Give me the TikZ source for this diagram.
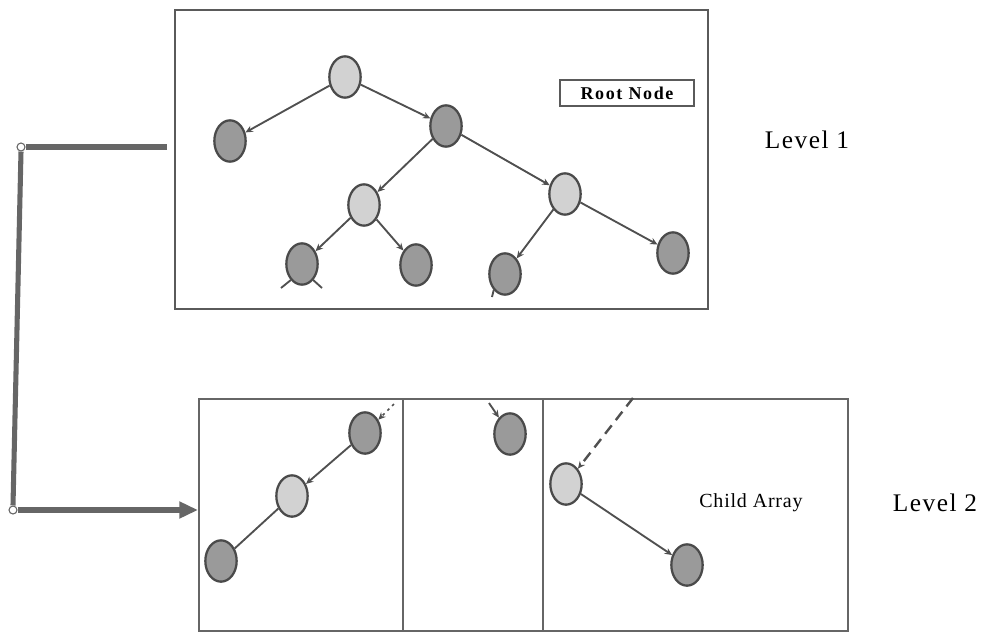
\documentclass[tikz,border=0pt]{standalone}
\usepackage{fontspec}
\setmainfont{Liberation Serif}
\usetikzlibrary{shapes.geometric,arrows.meta}
\definecolor{edgegray}{HTML}{505050}
\definecolor{lightfill}{HTML}{D2D2D2}
\definecolor{darkfill}{HTML}{9A9A9A}
\definecolor{rimgray}{HTML}{4A4A4A}
\definecolor{boxgray}{HTML}{5A5A5A}
\definecolor{linkgray}{HTML}{666666}
\begin{document}
\begin{tikzpicture}[x=0.75pt,y=-0.75pt,
  treenode/.style={ellipse,draw=rimgray,line width=1.7pt,inner sep=0pt,
    minimum width=23.5pt,minimum height=31pt},
  lightnode/.style={treenode,fill=lightfill},
  darknode/.style={treenode,fill=darkfill},
  edge/.style={draw=edgegray,line width=1.4pt,-{Stealth[length=5.5pt,width=5pt]}},
  stub/.style={draw=edgegray,line width=1.4pt},
  dashedge/.style={draw=edgegray,line width=1.8pt,dashed,dash pattern=on 8pt off 5pt,
    -{Stealth[length=5.5pt,width=5pt]}},
  frame/.style={draw=boxgray,line width=1.6pt},
  panel/.style={draw=linkgray,line width=0.9pt},
  link/.style={draw=linkgray,line width=3.8pt},
  joint/.style={circle,draw=linkgray,fill=white,line width=0.8pt,inner sep=0pt,minimum size=6pt},
  leveltext/.style={font=\fontsize{19}{22}\selectfont\addfontfeature{LetterSpace=6}},
]
\useasboundingbox (0,0) rectangle (986,636);

% ---- level 1: the tree ----
\draw[frame] (175,10) rectangle (708,309);
\node[draw=boxgray,line width=1.3pt,minimum width=100pt,minimum height=20pt,inner sep=2pt,
  font=\fontsize{13.5}{15}\selectfont\bfseries\addfontfeature{LetterSpace=9}] (rootlabel) at (627,93) {Root Node};

\node[lightnode] (r) at (345,77) {};
\node[darknode]  (a) at (230,141) {};
\node[darknode]  (b) at (446,126) {};
\node[lightnode] (c) at (364,205) {};
\node[lightnode] (d) at (565,194) {};
\node[darknode]  (e) at (302,264) {};
\node[darknode]  (f) at (416,265) {};
\node[darknode]  (g) at (505,274) {};
\node[darknode]  (h) at (673,253) {};

\draw[edge] (r) -- (a);
\draw[edge] (r) -- (b);
\draw[edge] (b) -- (c);
\draw[edge] (b) -- (d);
\draw[edge] (c) -- (e);
\draw[edge] (c) -- (f);
\draw[edge] (d) -- (g);
\draw[edge] (d) -- (h);

\coordinate (e1) at (281,288);
\coordinate (e2) at (322,288);
\coordinate (g1) at (492,297);
\draw[stub] (e.235) -- (e1);
\draw[stub] (e.305) -- (e2);
\draw[stub] (g.235) -- (g1);

\node[leveltext] (lvl1) at (807,140) {Level 1};

% ---- level 2: the child array ----
\draw[panel] (199,399) rectangle (848,631);
\draw[panel] (403,399) -- (403,631);
\draw[panel] (543,399) -- (543,631);

\node[darknode]  (p1) at (365,433) {};
\node[lightnode] (p2) at (292,496) {};
\node[darknode]  (p3) at (221,561) {};
\node[darknode]  (q1) at (510,434) {};
\node[lightnode] (s1) at (566,484) {};
\node[darknode]  (s2) at (687,565) {};

\draw[edge] (p1) -- (p2);
\draw[stub] (p2) -- (p3);
\draw[edge] (s1) -- (s2);

\coordinate (pin) at (394,404);
\coordinate (qin) at (489,403);
\coordinate (sin) at (633,398);
\draw[dashedge,line width=1.2pt,dash pattern=on 2pt off 3pt] (pin) -- (p1);
\draw[edge] (qin) -- (q1);
\draw[dashedge] (sin) -- (s1);

\node[font=\fontsize{15}{18}\selectfont\addfontfeature{LetterSpace=4}] (childlabel) at (751,503) {Child Array};
\node[leveltext] (lvl2) at (935,503) {Level 2};

% ---- link from level 1 to level 2 ----
\node[joint] (j1) at (21,147) {};
\node[joint] (j2) at (13,510) {};
\coordinate (from) at (167,147);
\coordinate (to) at (198,510);
\draw[link] (from) -- (j1.east);
\draw[link] (j1.south) -- (j2.north);
\draw[link,-{Triangle[length=14pt,width=12pt]}] (j2.east) -- (to);
\end{tikzpicture}
\end{document}
